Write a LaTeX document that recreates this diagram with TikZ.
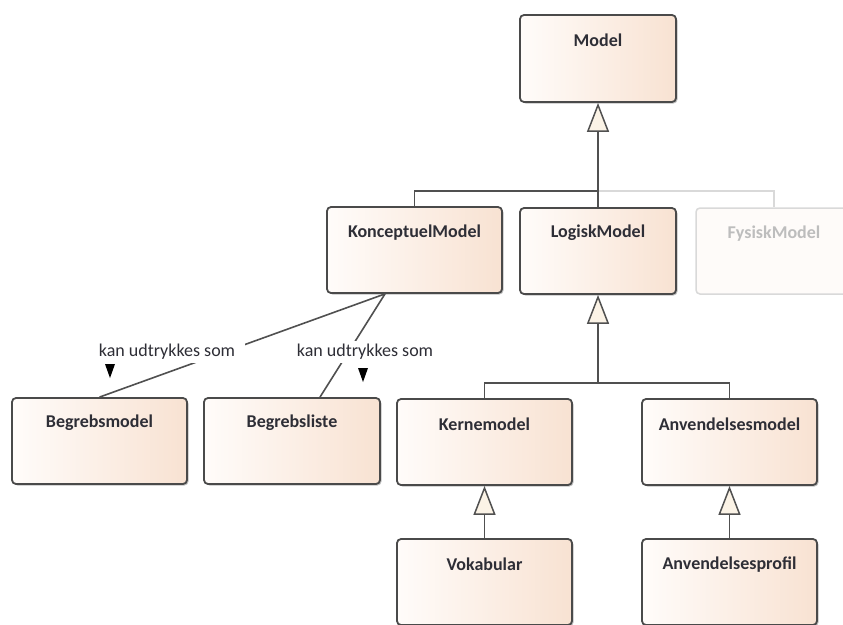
\documentclass[tikz,border=0pt]{standalone}
\usepackage{fontspec}
\setmainfont{Carlito}
\usetikzlibrary{arrows.meta,shadows,calc}
\definecolor{boxL}{HTML}{FFFCFA}
\definecolor{boxR}{HTML}{F8E2D2}
\definecolor{boxLine}{HTML}{4A4A4A}
\definecolor{conLine}{HTML}{505050}
\definecolor{triFill}{HTML}{FBF3E6}
\definecolor{txt}{HTML}{2E2E36}
\definecolor{fadeLine}{HTML}{D9D9D9}
\definecolor{fadeTxt}{HTML}{BDBDBD}
\definecolor{fadeFill}{HTML}{FEFBF9}
\tikzset{
  classbox/.style={rectangle, rounded corners=4pt, draw=boxLine, line width=1.8pt,
    left color=boxL, right color=boxR, minimum width=175pt, minimum height=86pt,
    drop shadow={shadow xshift=1.5pt, shadow yshift=-1.5pt, opacity=0.25, fill=black},
    label={[anchor=center, yshift=-26pt, text=txt, font=\fontsize{18}{20}\selectfont\bfseries]north:#1}},
  fadebox/.style={rectangle, rounded corners=4pt, draw=fadeLine, line width=1.5pt,
    fill=fadeFill, minimum width=156pt, minimum height=86pt,
    label={[anchor=center, yshift=-26pt, text=fadeTxt, font=\fontsize{18}{20}\selectfont\bfseries]north:#1}},
  conn/.style={draw=conLine, line width=1.8pt},
  fadeconn/.style={draw=fadeLine, line width=1.5pt},
  gen/.style={conn, -{Triangle[length=29pt, width=22pt, fill=triFill, line width=1.5pt]}},
  assoclabel/.style={fill=white, inner xsep=10pt, inner ysep=3pt, text=txt,
    font=\fontsize{18}{20}\selectfont},
}
\begin{document}
\begin{tikzpicture}[x=1pt, y=-1pt]
\clip (0,0) rectangle (843,624);
\fill[white] (0,0) rectangle (843,624);

\node[classbox=Model, minimum width=156pt, minimum height=87pt] (model) at (598,58.5) {};
\node[classbox=KonceptuelModel] (konc) at (414.5,250) {};
\node[classbox=LogiskModel, minimum width=156pt] (logisk) at (598,251) {};
\node[fadebox=FysiskModel] (fysisk) at (774,251) {};
\node[classbox=Begrebsmodel] (begm) at (99.5,441) {};
\node[classbox=Begrebsliste, minimum width=176pt] (begl) at (292,441) {};
\node[classbox=Kernemodel] (kerne) at (484.5,442) {};
\node[classbox=Anvendelsesmodel] (anvm) at (729.5,442) {};
\node[classbox=Vokabular] (vok) at (484.5,582) {};
\node[classbox=Anvendelsesprofil] (anvp) at (729.5,582) {};

\coordinate (bus1) at (598,191);
\coordinate (bus2) at (598,383);

% faded branch first (behind)
\draw[fadeconn] (bus1) -| (fysisk.north);
% generalizations
\draw[conn] (konc.north) |- (bus1);
\draw[gen] (logisk.north) -- (model.south);
\draw[conn] (kerne.north) |- (bus2) -| (anvm.north);
\draw[gen] (bus2) -- (logisk.south);
\draw[gen] (vok.north) -- (kerne.south);
\draw[gen] (anvp.north) -- (anvm.south);

% associations
\draw[conn, line width=1.6pt] ([xshift=-29.5pt]konc.south) -- (begm.north);
\draw[conn, line width=1.6pt] ([xshift=-29.5pt]konc.south) -- ([xshift=28pt]begl.north);
\node[assoclabel] (lab1) at (167,352) {kan udtrykkes som};
\node[assoclabel] (lab2) at (365,352) {kan udtrykkes som};
\fill[black] ($(lab1)+(-62,12)$) -- ($(lab1)+(-52,12)$) -- ($(lab1)+(-57,26)$) -- cycle;
\fill[black] ($(lab2)+(-7,16)$) -- ($(lab2)+(3,16)$) -- ($(lab2)+(-2,30)$) -- cycle;
\end{tikzpicture}
\end{document}
